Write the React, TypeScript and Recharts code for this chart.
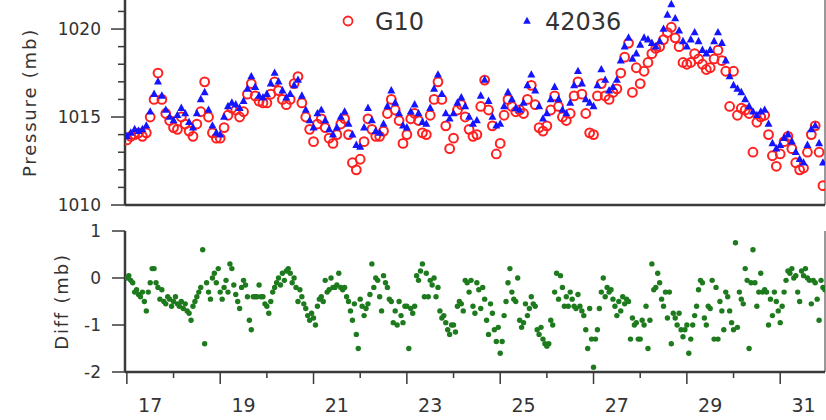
import React from 'react';
import { ScatterChart, Scatter, XAxis, YAxis, Legend, ReferenceLine } from 'recharts';

// Sea-level pressure, 2-hourly samples starting at day 17.0
const g10Pressure = [
  1013.7, 1013.9, 1014.0, 1014.1, 1013.9, 1014.1, 1015.0, 1016.0, 1017.5, 1016.0, 1015.2, 1014.8,
  1014.4, 1014.3, 1015.0, 1014.6, 1014.2, 1013.9, 1014.6, 1015.3, 1017.0, 1015.0, 1014.1, 1013.8,
  1013.8, 1014.4, 1015.1, 1015.5, 1015.4, 1015.0, 1015.3, 1016.3, 1016.9, 1016.2, 1015.9, 1015.8,
  1015.8, 1016.3, 1017.0, 1016.5, 1016.0, 1015.7, 1016.0, 1016.9, 1017.3, 1015.8, 1015.0, 1014.3,
  1013.6, 1014.6, 1014.9, 1014.4, 1013.8, 1013.5, 1014.0, 1014.6, 1014.9, 1014.0, 1012.4, 1012.0,
  1012.6, 1013.6, 1014.9, 1014.3, 1013.9, 1013.9, 1014.2, 1015.2, 1016.0, 1015.4, 1014.8, 1013.5,
  1014.0, 1014.9, 1015.2, 1014.8, 1014.1, 1014.0, 1015.1, 1016.0, 1017.0, 1016.0, 1014.5, 1013.2,
  1013.8, 1015.4, 1015.7, 1015.0, 1014.3, 1013.9, 1014.0, 1015.6, 1017.1, 1015.4, 1014.5, 1012.9,
  1013.5, 1015.1, 1016.0, 1015.6, 1015.3, 1015.4, 1015.2, 1016.0, 1016.8, 1015.7, 1014.4, 1014.2,
  1014.5, 1015.4, 1016.2, 1015.6, 1015.0, 1014.8, 1015.2, 1016.2, 1017.0, 1016.3, 1015.2, 1014.1,
  1014.0, 1016.2, 1016.9, 1016.2, 1016.0, 1016.4, 1016.6, 1017.5, 1018.4, 1019.2, 1016.4, 1017.8,
  1016.9, 1017.6, 1018.1, 1018.6, 1018.9, 1019.0, 1019.4, 1019.8, 1020.1, 1019.5, 1019.0, 1018.1,
  1018.0, 1018.1, 1018.6, 1018.3, 1018.0, 1017.7, 1017.8, 1018.3, 1018.8, 1018.2, 1017.6, 1015.6,
  1017.6, 1015.1, 1015.5, 1015.4, 1015.2, 1013.0, 1014.7, 1015.0, 1015.1, 1014.0, 1012.8, 1012.2,
  1012.9, 1013.6, 1013.9, 1013.2, 1012.4, 1012.0, 1012.1, 1013.0, 1014.0, 1014.5, 1013.0, 1011.1,
];

const buoyPressure = [
  1013.9, 1014.1, 1014.3, 1014.2, 1014.3, 1014.5, 1015.3, 1016.3, 1017.0, 1016.2, 1015.4, 1015.0,
  1014.8, 1015.1, 1015.5, 1015.2, 1014.7, 1014.4, 1015.2, 1016.0, 1016.4, 1015.4, 1014.5, 1014.1,
  1014.0, 1015.0, 1015.6, 1015.8, 1015.7, 1015.5, 1015.9, 1016.6, 1017.3, 1016.7, 1016.2, 1016.1,
  1016.3, 1016.9, 1017.5, 1017.0, 1016.5, 1016.1, 1016.3, 1016.8, 1017.1, 1016.2, 1015.4, 1014.8,
  1014.4, 1015.2, 1015.4, 1014.8, 1014.3, 1014.0, 1014.4, 1015.0, 1015.3, 1014.6, 1014.0, 1013.4,
  1013.3, 1014.4, 1015.5, 1014.8, 1014.2, 1014.1, 1014.6, 1015.6, 1016.5, 1015.8, 1015.2, 1014.5,
  1014.4, 1015.3, 1015.7, 1015.2, 1014.7, 1014.6, 1015.5, 1016.6, 1017.4, 1016.3, 1015.2, 1014.9,
  1015.2, 1015.8, 1016.1, 1015.6, 1015.0, 1014.6, 1014.8, 1016.2, 1017.1, 1015.9, 1015.0, 1014.5,
  1014.6, 1015.6, 1016.4, 1016.0, 1015.5, 1015.4, 1015.8, 1016.8, 1017.4, 1016.5, 1015.6, 1014.9,
  1015.2, 1016.0, 1016.7, 1016.0, 1015.4, 1015.2, 1015.8, 1016.8, 1017.6, 1016.9, 1016.0, 1015.8,
  1015.6, 1016.8, 1017.7, 1017.1, 1016.5, 1016.7, 1017.1, 1018.2, 1019.0, 1019.5, 1018.3, 1018.6,
  1019.1, 1019.5, 1019.4, 1019.2, 1019.0, 1019.3, 1020.0, 1020.8, 1021.4, 1020.6, 1019.9, 1019.3,
  1019.0, 1019.4, 1019.8, 1019.3, 1018.8, 1018.6, 1018.8, 1019.3, 1019.8, 1019.2, 1018.2, 1017.3,
  1016.8, 1016.6, 1016.4, 1016.0, 1015.6, 1015.3, 1015.1, 1015.3, 1015.4, 1014.6, 1013.5, 1013.2,
  1013.4, 1013.8, 1014.0, 1013.6, 1013.0, 1012.6, 1012.4, 1013.4, 1014.3, 1014.5, 1013.5, 1012.4,
];

// Difference G10 - 42036 (mb), hourly samples starting at day 17.0, one row per day
const pressureDiff = [
  0.0, 0.05, -0.05, -0.1, -0.3, -0.25, -0.35, -0.4, -0.3, -0.5, -0.7, -0.3, -0.1, 0.2, 0.2, -0.1, -0.2, -0.45, -0.25, -0.5, -0.55, -0.4, -0.45, -0.6,
  -0.5, -0.4, -0.55, -0.6, -0.5, -0.65, -0.55, -0.7, -0.75, -0.9, -0.6, -0.5, -0.4, -0.3, -0.2, 0.6, -1.4, -0.1, -0.3, -0.45, 0.0, 0.1, -0.1, 0.2,
  -0.3, -0.45, -0.2, -0.05, -0.3, 0.3, 0.2, -0.15, -0.35, -0.5, -0.65, -0.2, -0.05, -0.15, -0.4, -0.9, -1.1, -0.4, -0.4, -0.4, -0.15, -0.4, -0.4, -0.55,
  -0.6, -0.75, -0.5, -0.3, -0.2, -0.1, 0.0, -0.15, 0.1, -0.05, 0.15, 0.2, 0.1, -0.1, 0.0, -0.2, -0.5, -0.25, -0.4, -0.55, -0.65, -0.8, -0.9, -0.75,
  -0.85, -1.0, -0.6, -0.45, -0.4, -0.5, -0.05, -0.3, -0.25, 0.0, -0.2, -0.2, -0.15, 0.1, -0.2, -0.25, -0.2, -0.4, -0.5, -0.7, -0.9, -0.55, -1.2, -1.5,
  -0.45, -0.6, -0.8, -0.65, -0.55, -0.35, 0.3, -0.2, 0.0, -0.05, -0.4, -0.7, 0.05, -0.1, -0.2, -0.45, -0.5, -0.95, -0.7, -1.0, -0.5, -0.8, -0.95, -0.6,
  -0.6, -1.5, -0.65, -0.75, -0.6, 0.05, -0.05, 0.15, 0.3, -0.4, 0.1, -0.4, -0.05, -0.15, 0.0, -0.4, -0.2, -0.7, -0.85, -0.8, -0.95, -1.1, -1.2, -1.0,
  -1.0, -1.15, -0.6, -0.5, -0.55, -0.7, -0.05, -0.1, -0.3, -0.05, -0.6, -0.75, -0.1, -0.25, -0.65, -0.2, -0.45, -0.9, -1.2, -0.55, -0.75, -1.1, -1.35, -1.05,
  -1.6, -1.35, -0.8, -0.5, -0.1, 0.2, -0.3, -0.45, -0.5, 0.0, -0.9, -1.05, -0.95, -0.55, -0.8, -0.65, -0.4, -0.55, -0.6, -1.1, -1.2, -1.05, -1.3, -1.4,
  -1.45, -1.4, -0.9, -1.0, -0.3, 0.1, -0.45, 0.05, -0.2, -0.6, -0.4, -0.6, -0.3, -0.45, -0.6, -0.65, -0.35, -0.6, -0.7, -0.8, -1.1, -1.5, -0.65, -1.3,
  -1.9, -1.3, -1.1, -0.65, -0.3, 0.0, -0.4, -0.2, -0.3, -0.25, -0.45, -0.6, -0.8, -0.5, -0.7, -0.4, -0.55, -0.45, -0.5, -1.3, -0.85, -1.0, -0.95, -1.3,
  -1.3, -0.9, -1.0, -0.6, -1.5, -0.9, 0.3, -0.25, -0.2, 0.1, -0.1, -0.45, -0.6, -0.3, -0.85, -0.3, -1.4, -0.75, -0.85, -1.0, -0.75, -1.1, -1.25, -1.1,
  -1.0, -1.6, -1.3, -1.0, -0.8, -0.6, -0.25, -0.05, -0.1, -0.85, -1.0, -0.6, -0.65, -0.05, -1.3, -0.2, -1.3, -0.5, -0.7, -1.1, -0.3, -0.4, -0.7, -0.95,
  -1.1, 0.75, -1.05, -0.3, -0.45, -0.55, 0.2, -0.05, -1.5, -0.1, 0.6, -0.1, -0.6, -0.3, 0.1, -0.3, -0.25, -0.3, -1.0, -0.45, -0.8, -0.3, -0.5, -0.7,
  -0.95, -0.6, -0.3, -0.05, 0.15, 0.1, 0.2, 0.0, 0.05, -0.3, -0.5, 0.15, 0.05, 0.2, 0.0, -0.05, -0.55, -0.05, -0.1, -0.45, -0.9, -0.05, -0.2, -0.25,
];

const dayTicks = [17, 18, 19, 20, 21, 22, 23, 24, 25, 26, 27, 28, 29, 30, 31];
const pressureTicks = [1010, 1011, 1012, 1013, 1014, 1015, 1016, 1017, 1018, 1019, 1020, 1021];
const diffTicks = [-2, -1, 0, 1];
const seriesNames = ['G10', '42036'];

const START_DAY = 17;
const X_DOMAIN: [number, number] = [16.96, 31.96];
const P_DOMAIN: [number, number] = [1010, 1021.65];
const D_DOMAIN: [number, number] = [-2, 1];

const g10Data = g10Pressure.map((p, i) => ({ t: START_DAY + i / 12, p }));
const buoyData = buoyPressure.map((p, i) => ({ t: START_DAY + i / 12, p }));
const diffData = pressureDiff.map((d, i) => ({ t: START_DAY + i / 24, d }));

const FONT = '"DejaVu Sans", "Liberation Sans", sans-serif';
const AXIS = '#3a3a3a';
const TEXT = '#333';
const RED = '#ff2020';
const BLUE = '#1414ff';
const GREEN = '#1d7a1d';
const CHART_W = 826;
const Y_W = 125;
const DAY_PX = (CHART_W - 1 - Y_W) / (X_DOMAIN[1] - X_DOMAIN[0]);

const RedCircle = (p: any) => (
  <circle cx={p.cx} cy={p.cy} r={4.4} fill="none" stroke={RED} strokeWidth={2} />
);
const BlueTri = (p: any) => (
  <path d={`M${p.cx},${p.cy - 4.6}L${p.cx + 4},${p.cy + 2.8}L${p.cx - 4},${p.cy + 2.8}Z`} fill={BLUE} />
);
const GreenDot = (p: any) => <circle cx={p.cx} cy={p.cy} r={2.7} fill={GREEN} />;

const PressureTick = (props: any) => {
  const { x, y, payload } = props;
  const v = payload.value;
  const major = v % 5 === 0;
  return (
    <g>
      <line x1={x - (major ? 14 : 7)} y1={y} x2={x} y2={y} stroke={AXIS} strokeWidth={1.5} />
      {major && (
        <text x={x - 24} y={y} dy="0.36em" textAnchor="end" fontFamily={FONT} fontSize={17} fill={TEXT}>
          {v}
        </text>
      )}
    </g>
  );
};

const DiffTick = (props: any) => {
  const { x, y, payload } = props;
  return (
    <g>
      <line x1={x - 13} y1={y} x2={x} y2={y} stroke={AXIS} strokeWidth={1.5} />
      <text x={x - 24} y={y} dy="0.36em" textAnchor="end" fontFamily={FONT} fontSize={17} fill={TEXT}>
        {payload.value}
      </text>
    </g>
  );
};

const DayTick = (props: any) => {
  const { x, y, payload } = props;
  const v = payload.value;
  const major = v % 2 === 1;
  return (
    <g>
      <line x1={x} y1={y} x2={x} y2={y + (major ? 12 : 6)} stroke={AXIS} strokeWidth={1.5} />
      {major && (
        <text x={x + DAY_PX / 2} y={y + 40} textAnchor="middle" fontFamily={FONT} fontSize={19} fill={TEXT}>
          {v}
        </text>
      )}
    </g>
  );
};

const makeAxisLabel = (text: string, baselineX: number) => (props: any) => {
  const vb = props.viewBox || {};
  const cy = vb.y + vb.height / 2;
  return (
    <text
      x={baselineX}
      y={cy}
      transform={`rotate(-90, ${baselineX}, ${cy})`}
      textAnchor="middle"
      fontFamily={FONT}
      fontSize={18}
      letterSpacing={1.8}
      fill={TEXT}
    >
      {text}
    </text>
  );
};

const LegendBox = () => (
  <svg width={320} height={34} style={{ display: 'block', overflow: 'visible' }}>
    <circle cx={18} cy={17} r={4.5} fill="none" stroke={RED} strokeWidth={1.8} />
    <text x={45} y={26} fontFamily={FONT} fontSize={24} fill={TEXT}>{seriesNames[0]}</text>
    <path d="M197,12.8L200.8,19.8L193.2,19.8Z" fill={BLUE} />
    <text x={215} y={26} fontFamily={FONT} fontSize={24} fill={TEXT}>{seriesNames[1]}</text>
  </svg>
);

export default function App() {
  return (
    <div style={{ position: 'absolute', left: 0, top: 0, width: 826, height: 420, background: '#fff' }}>
      <ScatterChart width={CHART_W} height={215} margin={{ top: 0, right: 1, bottom: 0, left: 0 }}>
        <XAxis
          type="number"
          dataKey="t"
          domain={X_DOMAIN}
          allowDataOverflow
          ticks={dayTicks}
          tick={false}
          tickLine={false}
          height={10}
          axisLine={{ stroke: AXIS, strokeWidth: 2.5 }}
        />
        <YAxis
          type="number"
          dataKey="p"
          domain={P_DOMAIN}
          allowDataOverflow
          ticks={pressureTicks}
          interval={0}
          width={Y_W}
          tickSize={0}
          tickMargin={0}
          tick={<PressureTick />}
          axisLine={{ stroke: AXIS, strokeWidth: 2.5 }}
          label={makeAxisLabel('Pressure (mb)', 36)}
        />
        <ReferenceLine x={X_DOMAIN[1]} stroke="#777" strokeWidth={1.5} />
        <Legend
          layout="horizontal"
          verticalAlign="middle"
          align="center"
          content={<LegendBox />}
          wrapperStyle={{ top: 4, left: 330, width: 320, height: 34 }}
        />
        <Scatter name={seriesNames[0]} data={g10Data} shape={RedCircle} isAnimationActive={false} />
        <Scatter name={seriesNames[1]} data={buoyData} shape={BlueTri} isAnimationActive={false} />
      </ScatterChart>
      <ScatterChart width={CHART_W} height={205} margin={{ top: 16, right: 1, bottom: 0, left: 0 }}>
        <XAxis
          type="number"
          dataKey="t"
          domain={X_DOMAIN}
          allowDataOverflow
          ticks={dayTicks}
          interval={0}
          height={48}
          tickSize={0}
          tickMargin={0}
          tick={<DayTick />}
          axisLine={{ stroke: AXIS, strokeWidth: 2.5 }}
        />
        <YAxis
          type="number"
          dataKey="d"
          domain={D_DOMAIN}
          allowDataOverflow
          ticks={diffTicks}
          interval={0}
          width={Y_W}
          tickSize={0}
          tickMargin={0}
          tick={<DiffTick />}
          axisLine={{ stroke: AXIS, strokeWidth: 2.5 }}
          label={makeAxisLabel('Diff (mb)', 68)}
        />
        <ReferenceLine x={X_DOMAIN[1]} stroke="#777" strokeWidth={1.5} />
        <Scatter data={diffData} shape={GreenDot} isAnimationActive={false} />
      </ScatterChart>
    </div>
  );
}
